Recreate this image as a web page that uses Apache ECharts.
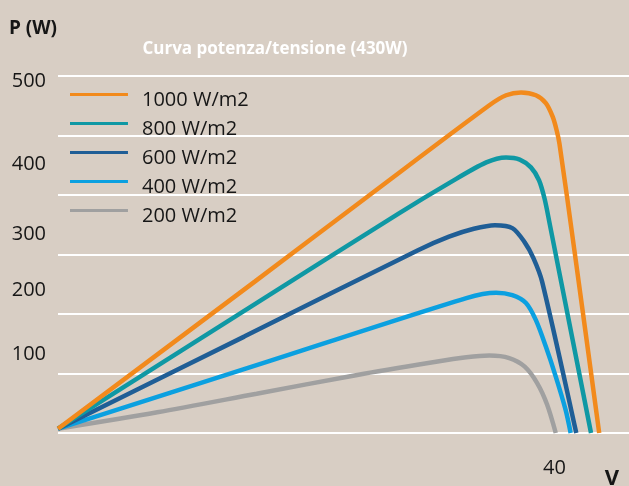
<!DOCTYPE html>
<html>
<head>
<meta charset="utf-8">
<script src="https://cdn.jsdelivr.net/npm/echarts@6/dist/echarts.min.js"></script>
<style>
  html, body { margin: 0; padding: 0; background: #D8CEC4; }
  #chart { width: 629px; height: 486px; }
</style>
</head>
<body>
<div id="chart"></div>
<script>
// ---------- DATA ----------
const chartTitle = 'Curva potenza/tensione (430W)';
const yAxisName = 'P (W)';
const xAxisName = 'V';
const seriesNames = ['1000 W/m2', '800 W/m2', '600 W/m2', '400 W/m2', '200 W/m2'];
const xTickLabels = ['40'];
const yTickLabels = ['100', '200', '300', '400', '500'];

// [voltage V, power W]
const curve1000 = [[0, 6], [15.85, 212], [25, 332], [34.75, 459], [36.1, 473], [37.3, 477], [38.5, 473], [39.3, 462], [39.85, 443], [40.17, 424], [40.4, 405], [41.6, 256], [43.6, 0]];
const curve800 = [[0, 6], [15, 171], [27.5, 308], [31.5, 350], [34.5, 379], [36.1, 386], [37.2, 383], [38.1, 372], [38.75, 354], [39.2, 328], [39.6, 294], [42.94, 0]];
const curve600 = [[0, 6], [15, 135], [29, 256], [31.5, 275], [33.5, 286], [35.2, 291], [36.6, 287], [37.6, 267], [38.3, 245], [39.0, 212], [41.75, 0]];
const curve400 = [[0, 6], [16, 95], [32.9, 189], [35.3, 196.5], [36.6, 193], [37.7, 182], [38.5, 158], [39.3, 121], [40.1, 79], [40.9, 32], [41.3, 0]];
const curve200 = [[0, 6], [8, 29], [16, 55], [24, 81], [30.2, 99], [32.9, 106], [34.75, 108.5], [36.35, 105], [37.6, 93], [38.6, 70], [39.4, 40], [40.1, 0]];

// ---------- STYLE ----------
const colors = ['#F28A1C', '#0F98A4', '#1F5E96', '#0BA0E0', '#A0A0A0'];
const curves = [curve1000, curve800, curve600, curve400, curve200];
const FONT = "'Open Sans', 'Noto Sans', sans-serif";
const TEXT = '#161616';
// vertical nudges (px) of y tick labels as printed in the reference
const yLabelNudge = { '500': 5, '400': 17, '300': 15, '200': 0, '100': -7 };

const rich = {};
Object.keys(yLabelNudge).forEach(function (k) {
  const d = yLabelNudge[k];
  rich['t' + k] = {
    fontSize: 20, fontFamily: FONT, color: TEXT,
    padding: d >= 0 ? [2 * d, 0, 0, 0] : [0, 0, -2 * d, 0]
  };
});

// legend icon: a 3px bar at the top of a 15px-high box (text sits a little lower than the bar)
const legendIcon = 'path://M0,0H58V3H0Z M0,15H0.01V15.01H0Z';

const chart = echarts.init(document.getElementById('chart'), null, { renderer: 'canvas' });

const option = {
  backgroundColor: '#D8CEC4',
  animation: false,
  title: {
    text: chartTitle,
    left: 275,
    textAlign: 'center',
    top: 41,
    padding: 0,
    textStyle: { color: '#FFFFFF', fontWeight: 'bold', fontSize: 17, fontFamily: FONT }
  },
  legend: {
    data: seriesNames,
    orient: 'vertical',
    left: 70,
    top: 86,
    padding: 0,
    itemGap: 0,
    itemWidth: 58,
    itemHeight: 15,
    icon: legendIcon,
    selectedMode: false,
    textStyle: { fontSize: 20, lineHeight: 29, padding: [0, 0, 0, 9], color: TEXT, fontFamily: FONT }
  },
  grid: { left: 58, right: 0, top: 76, bottom: 53, containLabel: false, outerBoundsMode: 'none' },
  xAxis: {
    type: 'value',
    min: 0,
    max: 46,
    interval: 40,
    name: xAxisName,
    nameLocation: 'end',
    nameGap: -17,
    nameTextStyle: { fontSize: 22, fontWeight: 'bold', color: TEXT, fontFamily: FONT, align: 'center', verticalAlign: 'top', padding: [35, 0, 0, 0] },
    axisLine: { show: false },
    axisTick: { show: false },
    splitLine: { show: false },
    axisLabel: {
      margin: 25,
      fontSize: 20, color: TEXT, fontFamily: FONT,
      showMaxLabel: false,
      formatter: function (v) { return xTickLabels.indexOf(String(v)) >= 0 ? String(v) : ''; }
    }
  },
  yAxis: [
    {
      type: 'value',
      min: 0,
      max: 500,
      interval: 100,
      position: 'left',
      name: yAxisName,
      nameLocation: 'end',
      nameGap: 47,
      nameTextStyle: { fontSize: 19, fontWeight: 'bold', color: TEXT, fontFamily: FONT, align: 'right', verticalAlign: 'middle', padding: [0, 1, 0, 0] },
      axisLine: { show: false },
      axisTick: { show: false },
      splitLine: { show: false },
      axisLabel: {
        margin: 12,
        fontSize: 20, color: TEXT, fontFamily: FONT,
        rich: rich,
        formatter: function (v) {
          const s = String(v);
          return yTickLabels.indexOf(s) >= 0 ? '{t' + s + '|' + s + '}' : '';
        }
      }
    },
    {
      type: 'value',
      min: 0,
      max: 6,
      interval: 1,
      position: 'right',
      axisLine: { show: false },
      axisTick: { show: false },
      axisLabel: { show: false },
      splitLine: { show: true, lineStyle: { color: '#FFFFFF', width: 2 } }
    }
  ],
  series: seriesNames.map(function (name, i) {
    return {
      name: name,
      type: 'line',
      yAxisIndex: 0,
      data: curves[i],
      smooth: 0.3,
      showSymbol: false,
      silent: true,
      color: colors[i],
      lineStyle: { width: 4.5, color: colors[i] },
      z: 10 - i
    };
  })
};

chart.setOption(option);
</script>
</body>
</html>
